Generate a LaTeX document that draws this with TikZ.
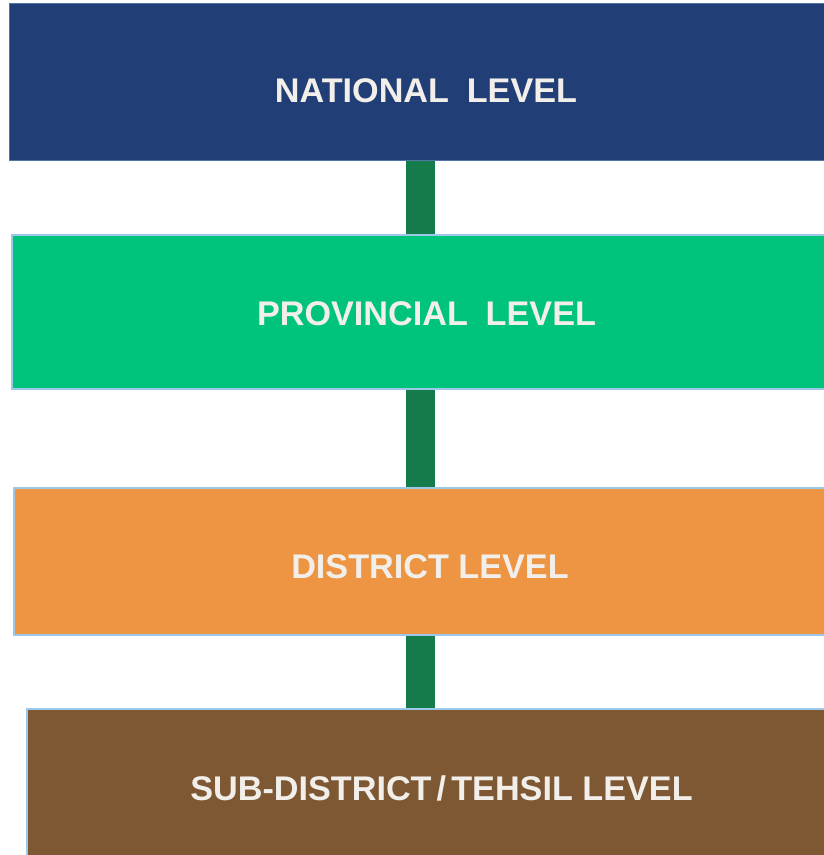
\documentclass[tikz,border=0pt]{standalone}
\usepackage{fontspec}
\setmainfont{Liberation Sans}
\usetikzlibrary{backgrounds}
\definecolor{natblue}{HTML}{213F76}
\definecolor{provgreen}{HTML}{00C47B}
\definecolor{distorange}{HTML}{ED9542}
\definecolor{subbrown}{HTML}{7E5833}
\definecolor{linkgreen}{HTML}{167B4B}
\definecolor{edgeblue}{HTML}{9CC8EA}
\definecolor{labelwhite}{HTML}{F2EFEA}
\tikzset{
  levelbox/.style={rectangle, draw=edgeblue, line width=1.6pt, inner sep=0pt, anchor=north west},
  levellabel/.style={text=labelwhite, anchor=base, inner sep=0pt,
    font=\fontsize{34.2}{40}\selectfont\bfseries},
  link/.style={draw=linkgreen, line width=29pt}
}
\begin{document}
\begin{tikzpicture}[x=1pt,y=-1pt]
\useasboundingbox (0,0) rectangle (823,855);
\coordinate (axis) at (420.5,0);

% the four level boxes (running off the right edge)
\node[levelbox, fill=natblue, draw=natblue!60!edgeblue, line width=1.2pt, minimum width=820pt, minimum height=157pt] (national) at (9,3) {};
\node[levelbox, fill=provgreen, minimum width=820pt, minimum height=154pt] (provincial) at (11,234) {};
\node[levelbox, fill=distorange, minimum width=820pt, minimum height=147pt] (district) at (13,487) {};
\node[levelbox, fill=subbrown, minimum width=810pt, minimum height=150pt] (subdistrict) at (26,708) {};

% connecting bars, tucked under the box edges
\begin{scope}[on background layer]
\fill[white] (0,0) rectangle (823,855);
\draw[link] (national.south -| axis) -- (provincial.north -| axis);
\draw[link] (provincial.south -| axis) -- (district.north -| axis);
\draw[link] (district.south -| axis) -- (subdistrict.north -| axis);
\end{scope}

% labels
\node[levellabel] (national-label) at (426,102) {NATIONAL\hspace{0.52em}LEVEL};
\node[levellabel] (provincial-label) at (426.5,325) {PROVINCIAL\hspace{0.52em}LEVEL};
\node[levellabel] (district-label) at (430,578) {DISTRICT LEVEL};
\node[levellabel] (subdistrict-label) at (441.5,800) {SUB-DISTRICT\hspace{0.15em}/\hspace{0.15em}TEHSIL LEVEL};
\end{tikzpicture}
\end{document}
